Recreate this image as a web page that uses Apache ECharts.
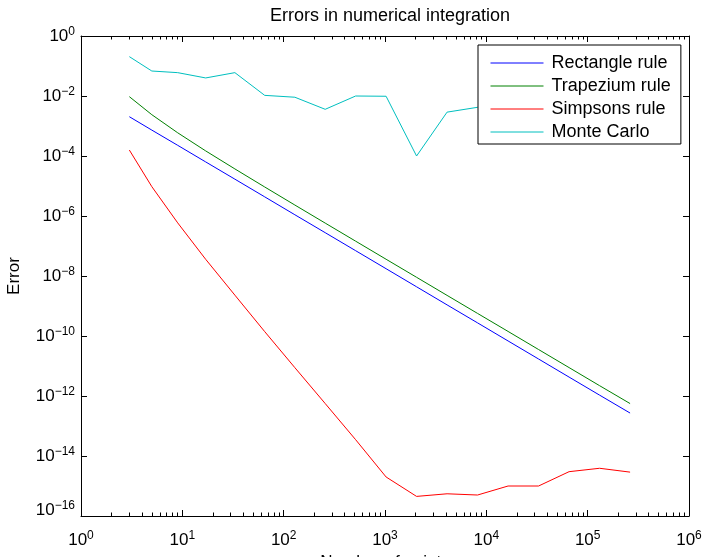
<!DOCTYPE html>
<html>
<head>
<meta charset="utf-8">
<script src="https://cdn.jsdelivr.net/npm/echarts@6/dist/echarts.min.js"></script>
<style>
  html, body { margin: 0; padding: 0; background: #fff; }
  #chart { width: 704px; height: 557px; }
</style>
</head>
<body>
<div id="chart"></div>
<script>
// number of points used (2^k + 1)
const points = [3, 5, 9, 17, 33, 65, 129, 257, 513, 1025, 2049, 4097, 8193, 16385, 32769, 65537, 131073, 262145]

// errors
const rectangle = [2.04e-3, 7.3e-4, 2.27e-4, 6.35e-5, 1.69e-5, 4.35e-6, 1.10e-6, 2.78e-7, 6.98e-8,
  1.75e-8, 4.37e-9, 1.09e-9, 2.74e-10, 6.84e-11, 1.71e-11, 4.27e-12, 1.07e-12, 2.7e-13]
const trapezium = [9.5e-3, 2.38e-3, 5.94e-4, 1.48e-4, 3.71e-5, 9.28e-6, 2.32e-6, 5.8e-7, 1.45e-7,
  3.62e-8, 9.06e-9, 2.26e-9, 5.66e-10, 1.42e-10, 3.54e-11, 8.85e-12, 2.21e-12, 5.6e-13]
const simpsons = [1.58e-4, 9.5e-6, 5.9e-7, 3.6e-8, 2.3e-9, 1.4e-10, 8.8e-12, 5.6e-13, 3.5e-14,
  2.0e-15, 4.5e-16, 5.5e-16, 5.0e-16, 1.0e-15, 1.0e-15, 3.0e-15, 3.9e-15, 2.9e-15]
const monteCarlo = [0.205, 0.068, 0.060, 0.040, 0.060, 0.0105, 0.0091, 0.0036, 0.010,
  0.0098, 1.0e-4, 0.0029, 0.0042, 0.0025, 0.0015, 0.002, 0.0008, 0.0012]

const seriesNames = ['Rectangle rule', 'Trapezium rule', 'Simpsons rule', 'Monte Carlo']
const seriesColors = ['#0000ff', '#008000', '#ff0000', '#00bfbf']

// minor ticks of the x axis (log10 of 2..9 x 10^k)
const minorTicks = []
for (let k = 0; k < 6; k++) {
  for (let m = 2; m <= 9; m++) minorTicks.push(k + Math.log10(m))
}

const font = 'Liberation Sans, Arial, Helvetica, sans-serif'
const richPow = {
  b: { fontSize: 17, lineHeight: 20, fontFamily: font, color: '#000' },
  s: { fontSize: 12, lineHeight: 8, verticalAlign: 'top', fontFamily: font, color: '#000' },
  g: { fontSize: 1, lineHeight: 12 },
}
const powLabel = (v) => {
  const e = Math.round(Math.log10(v))
  const txt = '{b|10}{s|' + (e < 0 ? '\u2212' + (-e) : e) + '}'
  return e === -16 ? txt + '\n{g|}' : txt
}

const chart = echarts.init(document.getElementById('chart'))

const majorX = (pos) => ({
  type: 'log', logBase: 10, min: 1, max: 1e6, interval: 1, position: pos,
  axisLine: { show: true, onZero: false, lineStyle: { color: '#000', width: 1 } },
  axisTick: { show: true, inside: true, length: 6, lineStyle: { color: '#000' } },
  axisLabel: { show: pos === 'bottom', margin: 14, formatter: powLabel, rich: richPow },
  splitLine: { show: false },
  name: pos === 'bottom' ? 'Number of points' : '',
  nameLocation: 'middle', nameGap: 34,
  nameTextStyle: { fontSize: 17, fontFamily: font, color: '#000' },
})
const minorX = (pos) => ({
  type: 'value', min: 0, max: 6, position: pos,
  axisLine: { show: false },
  axisTick: { show: true, inside: true, length: 3.5, customValues: minorTicks, lineStyle: { color: '#000' } },
  axisLabel: { show: false },
  splitLine: { show: false },
})
const yAx = (pos) => ({
  type: 'log', logBase: 10, min: 1e-16, max: 1, interval: 2, position: pos,
  axisLine: { show: true, onZero: false, lineStyle: { color: '#000', width: 1 } },
  axisTick: { show: true, inside: true, length: 6, lineStyle: { color: '#000' } },
  axisLabel: { show: pos === 'left', margin: 6, formatter: powLabel, rich: richPow },
  splitLine: { show: false },
  name: pos === 'left' ? 'Error' : '',
  nameLocation: 'middle', nameGap: 58, nameRotate: 90,
  nameTextStyle: { fontSize: 17, fontFamily: font, color: '#000' },
})

const allSeries = [rectangle, trapezium, simpsons, monteCarlo].map((vals, i) => ({
  name: seriesNames[i],
  type: 'line',
  xAxisIndex: 0,
  yAxisIndex: 0,
  symbol: 'none',
  color: seriesColors[i],
  lineStyle: { width: 1, color: seriesColors[i] },
  data: points.map((n, j) => [n, vals[j]]),
}))

chart.setOption({
  animation: false,
  backgroundColor: '#fff',
  title: {
    text: 'Errors in numerical integration',
    left: 385, top: 2, textAlign: 'center',
    textStyle: { fontSize: 18, fontWeight: 'normal', fontFamily: font, color: '#000' },
  },
  grid: { left: 81, right: 15, top: 36, bottom: 41, containLabel: false, outerBoundsMode: 'none' },
  legend: {
    data: seriesNames,
    orient: 'vertical',
    left: 478, top: 45,
    padding: [9, 10, 3, 12],
    itemWidth: 53, itemHeight: 14, itemGap: 5,
    itemStyle: { opacity: 0 },
    lineStyle: { width: 1 },
    borderColor: '#000', borderWidth: 1, backgroundColor: '#fff',
    textStyle: { fontSize: 18, lineHeight: 16, fontFamily: font, color: '#000', padding: [0, 0, 0, 3] },
  },
  xAxis: [majorX('bottom'), majorX('top'), minorX('bottom'), minorX('top')],
  yAxis: [yAx('left'), yAx('right')],
  series: allSeries,
})
</script>
</body>
</html>
